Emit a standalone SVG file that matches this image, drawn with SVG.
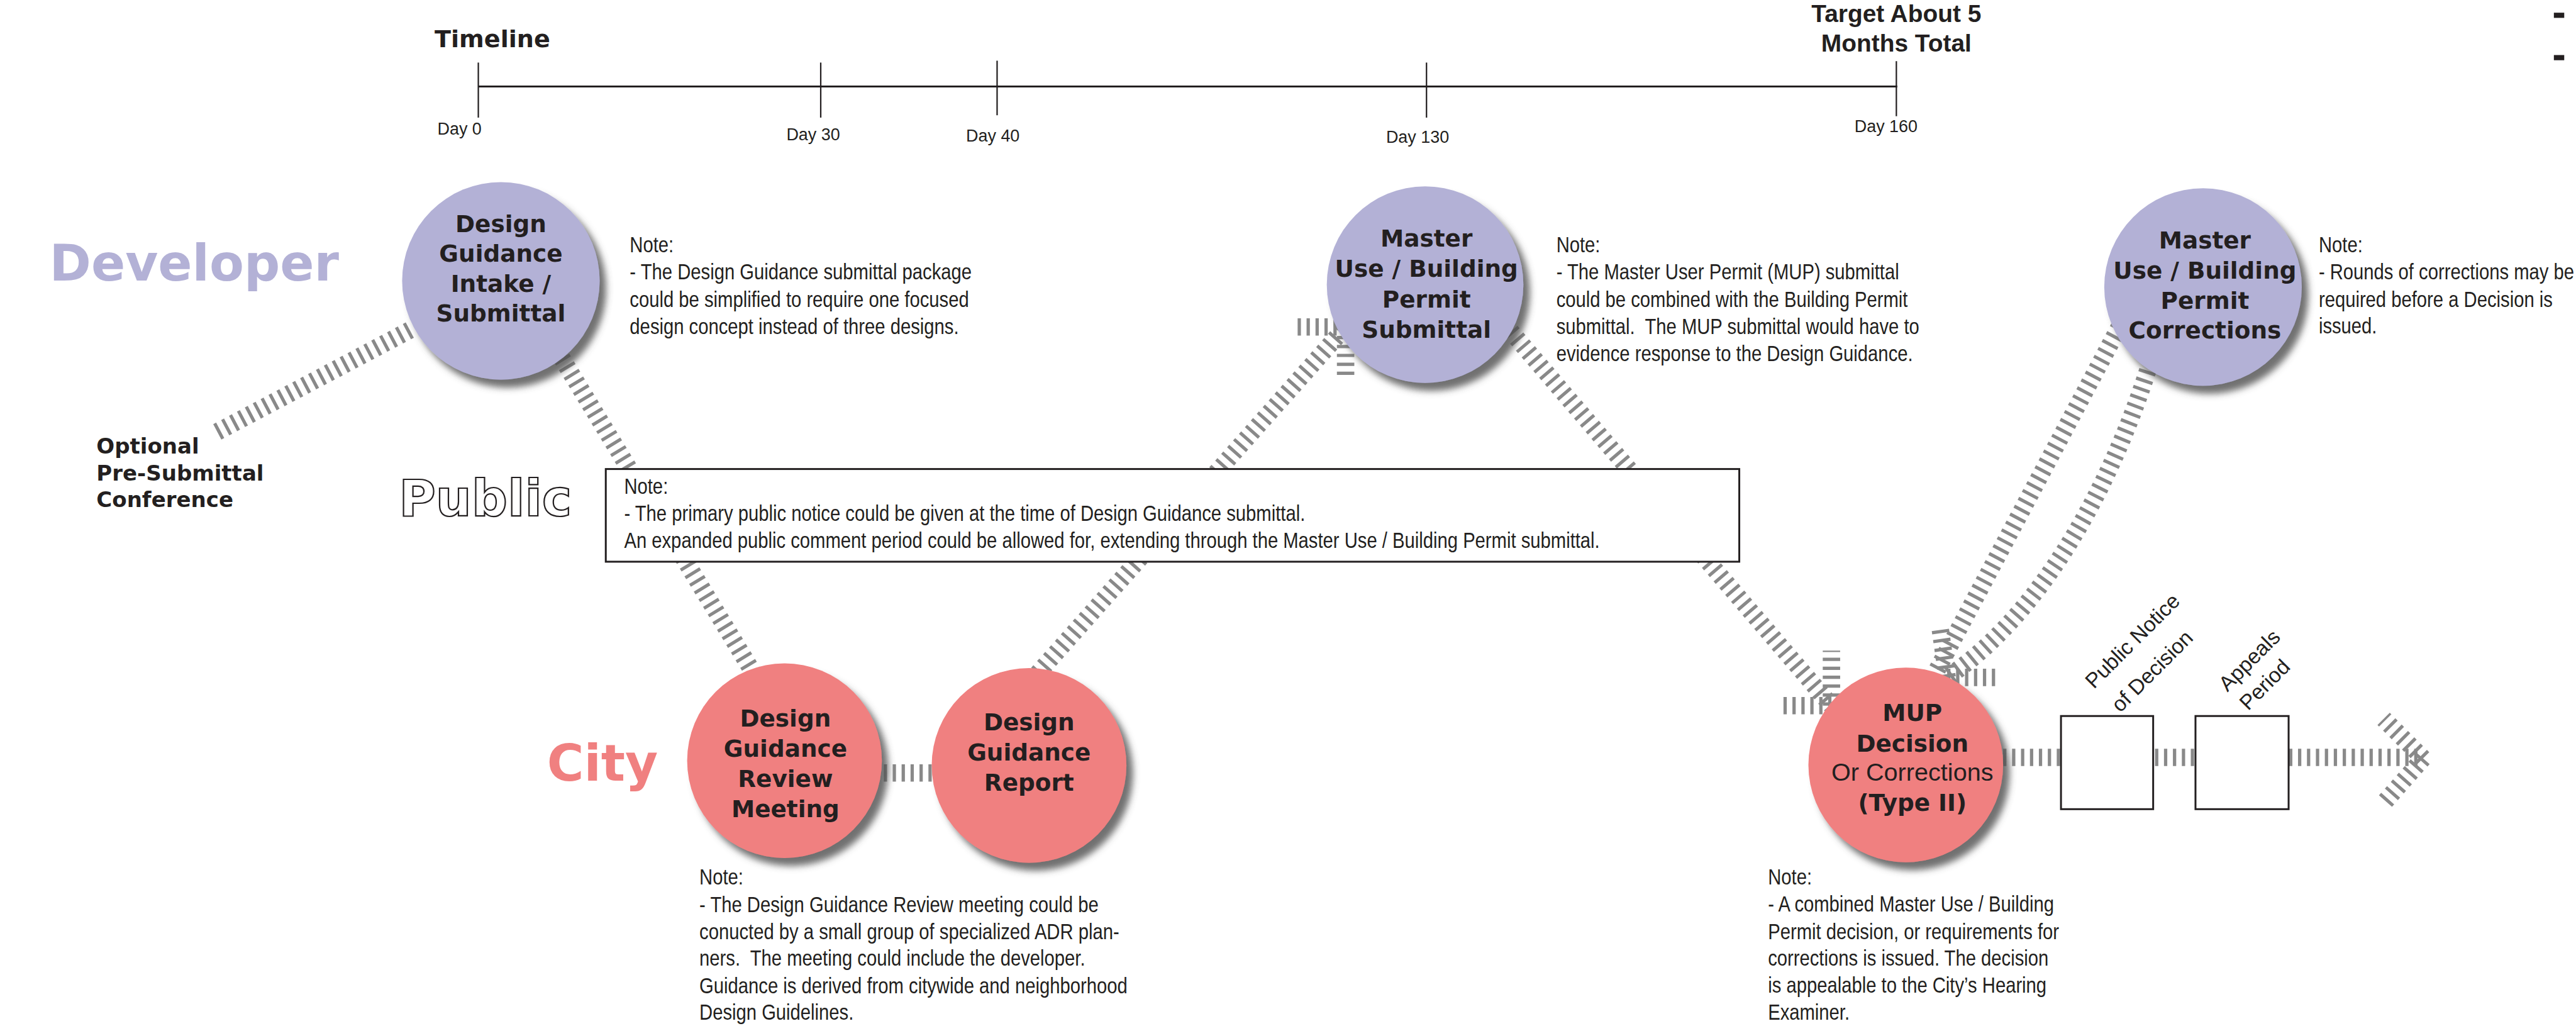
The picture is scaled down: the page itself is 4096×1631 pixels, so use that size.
<svg xmlns="http://www.w3.org/2000/svg" width="4096" height="1631" viewBox="0 0 4096 1631">
<defs>
<filter id="sh" x="-20%" y="-20%" width="150%" height="150%"><feDropShadow dx="14" dy="17" stdDeviation="7" flood-color="#4d4d4d" flood-opacity="0.8"/></filter>
</defs>
<style>
.hatch{fill:none;stroke:#898989;stroke-width:37;stroke-dasharray:7 12;}
.dev{fill:#b3b1d6;filter:url(#sh)}
.city{fill:#f08080;filter:url(#sh)}
.lbl{font-family:"DejaVu Sans",sans-serif;font-weight:bold;font-size:50px;fill:#231f20;text-anchor:middle}
.reg{font-family:"Liberation Sans",Arial,sans-serif;font-size:53px;fill:#231f20;text-anchor:middle}
.note{font-family:"Liberation Sans",Arial,sans-serif;font-size:46px;fill:#231f20}
.day{font-family:"Liberation Sans",Arial,sans-serif;font-size:36px;fill:#231f20}
.rot{font-family:"Liberation Sans",Arial,sans-serif;font-size:45px;fill:#231f20}
.role{font-family:"DejaVu Sans",sans-serif;font-weight:bold;font-size:107px}
.tick{stroke:#231f20;stroke-width:3}
.box{fill:#fff;stroke:#231f20;stroke-width:4}
</style>
<rect width="4096" height="1631" fill="#fff"/>
<g transform="scale(0.74785)">

<g id="timeline">
<line x1="1017" y1="184" x2="4034" y2="184" stroke="#231f20" stroke-width="4"/>
<line class="tick" x1="1017" y1="133" x2="1017" y2="250"/>
<line class="tick" x1="1745" y1="133" x2="1745" y2="250"/>
<line class="tick" x1="2120" y1="129" x2="2120" y2="245"/>
<line class="tick" x1="3033" y1="133" x2="3033" y2="250"/>
<line class="tick" x1="4032" y1="130" x2="4032" y2="247"/>
<text class="day" x="930" y="286">Day 0</text>
<text class="day" x="1672" y="298">Day 30</text>
<text class="day" x="2054" y="301">Day 40</text>
<text class="day" x="2947" y="303">Day 130</text>
<text class="day" x="3943" y="281">Day 160</text>
<text x="924" y="100" font-family="DejaVu Sans, sans-serif" font-weight="bold" font-size="51" fill="#231f20">Timeline</text>
<text x="4032" y="47" font-family="Liberation Sans, Arial, sans-serif" font-weight="bold" font-size="52" fill="#231f20" text-anchor="middle">Target About 5</text>
<text x="4032" y="109" font-family="Liberation Sans, Arial, sans-serif" font-weight="bold" font-size="52" fill="#231f20" text-anchor="middle">Months Total</text>
<rect x="5430" y="27" width="22" height="11" fill="#231f20"/>
<rect x="5430" y="117" width="22" height="11" fill="#231f20"/>
</g>

<g id="roles">
<text class="role" x="105" y="596" fill="#b3b1d6">Developer</text>
<text class="role" x="848" y="1097" fill="#fff" stroke="#231f20" stroke-width="3">Public</text>
<text class="role" x="1163" y="1660" fill="#f08080">City</text>
</g>

<g id="connectors">
<path class="hatch" d="M462,918 L950,660"/>
<path class="hatch" d="M1145,680 L1620,1460"/>
<path class="hatch" d="M1860,1643 L1995,1643"/>
<path class="hatch" d="M2181,1460 L2861,695"/>
<path class="hatch" d="M2861,695 L2750,695 M2861,695 L2861,805"/>
<path class="hatch" d="M3200,690 L3894,1500"/>
<path class="hatch" d="M3894,1500 L3894,1383 M3894,1500 L3789,1500"/>
<path class="hatch" d="M4110,1440 L4514,680"/>
<path class="hatch" d="M4572,770 C4500,1000 4360,1290 4140,1440"/>
<path class="hatch" d="M4140,1440 L4125,1335 M4140,1440 L4250,1440"/>
<path class="hatch" d="M4240,1610 L5150,1610"/>
<path class="hatch" d="M5152,1612 L5068,1528 M5152,1612 L5070,1705"/>
</g>

<g id="public-note">
<rect class="box" x="1288" y="997" width="2410" height="197"/>
<g class="note" transform="translate(1327,0) scale(0.85,1)">
<text x="0" y="1050">Note:</text>
<text x="0" y="1107">- The primary public notice could be given at the time of Design Guidance submittal.</text>
<text x="0" y="1165">An expanded public comment period could be allowed for, extending through the Master Use / Building Permit submittal.</text>
</g>
</g>

<g id="optional">
<text x="205" y="964" font-family="DejaVu Sans, sans-serif" font-weight="bold" font-size="45.5" fill="#231f20">Optional</text>
<text x="205" y="1021" font-family="DejaVu Sans, sans-serif" font-weight="bold" font-size="45.5" fill="#231f20">Pre-Submittal</text>
<text x="205" y="1078" font-family="DejaVu Sans, sans-serif" font-weight="bold" font-size="45.5" fill="#231f20">Conference</text>
</g>

<g id="dg-intake">
<circle class="dev" cx="1065" cy="597" r="210"/>
<text class="lbl" x="1065" y="493">Design</text>
<text class="lbl" x="1065" y="556">Guidance</text>
<text class="lbl" x="1065" y="620">Intake /</text>
<text class="lbl" x="1065" y="683">Submittal</text>
<g class="note" transform="translate(1339,0) scale(0.85,1)">
<text x="0" y="536">Note:</text>
<text x="0" y="594">- The Design Guidance submittal package</text>
<text x="0" y="652">could be simplified to require one focused</text>
<text x="0" y="710">design concept instead of three designs.</text>
</g>
</g>

<g id="mup-submittal">
<circle class="dev" cx="3030" cy="605" r="209"/>
<text class="lbl" x="3033" y="524">Master</text>
<text class="lbl" x="3033" y="589">Use / Building</text>
<text class="lbl" x="3033" y="654">Permit</text>
<text class="lbl" x="3033" y="718">Submittal</text>
<g class="note" transform="translate(3309,0) scale(0.85,1)">
<text x="0" y="536">Note:</text>
<text x="0" y="594">- The Master User Permit (MUP) submittal</text>
<text x="0" y="652">could be combined with the Building Permit</text>
<text x="0" y="710">submittal.&#160; The MUP submittal would have to</text>
<text x="0" y="768">evidence response to the Design Guidance.</text>
</g>
</g>

<g id="mup-corrections">
<circle class="dev" cx="4684" cy="610" r="210"/>
<text class="lbl" x="4688" y="528">Master</text>
<text class="lbl" x="4688" y="592">Use / Building</text>
<text class="lbl" x="4688" y="656">Permit</text>
<text class="lbl" x="4688" y="719">Corrections</text>
<g class="note" transform="translate(4930,0) scale(0.85,1)">
<text x="0" y="536">Note:</text>
<text x="0" y="594">- Rounds of corrections may be</text>
<text x="0" y="653">required before a Decision is</text>
<text x="0" y="709">issued.</text>
</g>
</g>

<g id="dg-review-meeting">
<circle class="city" cx="1668" cy="1617" r="207"/>
<text class="lbl" x="1670" y="1545">Design</text>
<text class="lbl" x="1670" y="1609">Guidance</text>
<text class="lbl" x="1670" y="1673">Review</text>
<text class="lbl" x="1670" y="1737">Meeting</text>
<g class="note" transform="translate(1487,0) scale(0.85,1)">
<text x="0" y="1880">Note:</text>
<text x="0" y="1939">- The Design Guidance Review meeting could be</text>
<text x="0" y="1997">conucted by a small group of specialized ADR plan-</text>
<text x="0" y="2053">ners.&#160; The meeting could include the developer.</text>
<text x="0" y="2111">Guidance is derived from citywide and neighborhood</text>
<text x="0" y="2167">Design Guidelines.</text>
</g>
</g>

<g id="dg-report">
<circle class="city" cx="2188" cy="1627" r="207"/>
<text class="lbl" x="2188" y="1553">Design</text>
<text class="lbl" x="2188" y="1617">Guidance</text>
<text class="lbl" x="2188" y="1681">Report</text>
</g>

<g id="mup-decision">
<circle class="city" cx="4052" cy="1626" r="207"/>
<text class="lbl" x="4066" y="1533" font-size="52">MUP</text>
<text class="lbl" x="4066" y="1598" font-size="52">Decision</text>
<text class="reg" x="4066" y="1660">Or Corrections</text>
<text class="lbl" x="4066" y="1723" font-size="52">(Type II)</text>
<g class="note" transform="translate(3759,0) scale(0.85,1)">
<text x="0" y="1880">Note:</text>
<text x="0" y="1938">- A combined Master Use / Building</text>
<text x="0" y="1997">Permit decision, or requirements for</text>
<text x="0" y="2053">corrections is issued. The decision</text>
<text x="0" y="2110">is appealable to the City’s Hearing</text>
<text x="0" y="2167">Examiner.</text>
</g>
</g>

<g id="public-notice">
<rect class="box" x="4382" y="1522" width="196" height="198"/>
<text class="rot" transform="translate(4452,1466) rotate(-45)">Public Notice</text>
<text class="rot" transform="translate(4508,1516) rotate(-45)">of Decision</text>
</g>

<g id="appeals">
<rect class="box" x="4668" y="1522" width="198" height="198"/>
<text class="rot" transform="translate(4736,1472) rotate(-45)">Appeals</text>
<text class="rot" transform="translate(4780,1512) rotate(-45)">Period</text>
</g>

</g>
</svg>
